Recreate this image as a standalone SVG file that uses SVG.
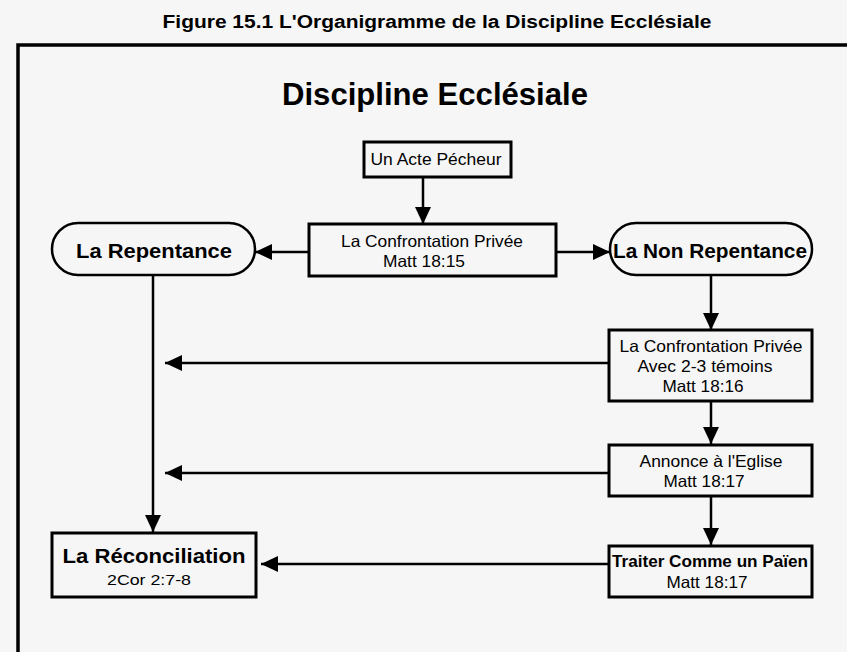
<svg xmlns="http://www.w3.org/2000/svg" width="847" height="652" viewBox="0 0 847 652">
<defs>
<style>
text{font-family:"Liberation Sans",Arial,sans-serif;fill:#000;text-anchor:middle}
.box{fill:none;stroke:#000;stroke-width:3}
.pill{fill:none;stroke:#000;stroke-width:2.5}
.c{fill:none;stroke:#000;stroke-width:2.5}
.t{font-size:16.5px}
.b{font-weight:bold}
</style>
<marker id="ah" markerUnits="userSpaceOnUse" markerWidth="17" markerHeight="16" refX="17" refY="8" orient="auto">
<path d="M0,0 L17,8 L0,16 Z" fill="#000"/>
</marker>
</defs>
<rect x="0" y="0" width="847" height="652" fill="#f6f6f6"/>
<g id="frame">
<text x="437" y="28" class="b" font-size="18" textLength="549" lengthAdjust="spacingAndGlyphs">Figure 15.1 L'Organigramme de la Discipline Ecclésiale</text>
<path d="M18,652 V45 H847" fill="none" stroke="#000" stroke-width="3.5"/>
<text x="435" y="105" class="b" font-size="31" textLength="306" lengthAdjust="spacingAndGlyphs">Discipline Ecclésiale</text>
</g>
<g id="connectors">
<line class="c" x1="423" y1="177" x2="423" y2="224" marker-end="url(#ah)"/>
<line class="c" x1="309" y1="252" x2="255" y2="252" marker-end="url(#ah)"/>
<line class="c" x1="556" y1="252" x2="610" y2="252" marker-end="url(#ah)"/>
<line class="c" stroke-width="3" x1="711" y1="275" x2="711" y2="330" marker-end="url(#ah)"/>
<line class="c" x1="609" y1="363" x2="165" y2="363" marker-end="url(#ah)"/>
<line class="c" stroke-width="3" x1="711" y1="401" x2="711" y2="444" marker-end="url(#ah)"/>
<line class="c" x1="609" y1="473" x2="165" y2="473" marker-end="url(#ah)"/>
<line class="c" stroke-width="3" x1="711" y1="496" x2="711" y2="545" marker-end="url(#ah)"/>
<line class="c" stroke-width="2" x1="609" y1="564" x2="261" y2="564" marker-end="url(#ah)"/>
<line class="c" stroke-width="2" x1="153" y1="275" x2="153" y2="532" marker-end="url(#ah)"/>
</g>
<g id="acte">
<rect class="box" x="364" y="142" width="147" height="35"/>
<text x="436" y="165" class="t" textLength="131" lengthAdjust="spacingAndGlyphs">Un Acte Pécheur</text>
</g>
<g id="confrontation">
<rect class="box" x="309" y="224" width="247" height="52"/>
<text x="432" y="247" class="t" textLength="182" lengthAdjust="spacingAndGlyphs">La Confrontation Privée</text>
<text x="424" y="267" class="t" textLength="82" lengthAdjust="spacingAndGlyphs">Matt 18:15</text>
</g>
<g id="repentance">
<rect class="pill" x="52" y="223" width="203" height="52" rx="26" ry="26"/>
<text x="154" y="258" class="b" font-size="21" textLength="156" lengthAdjust="spacingAndGlyphs">La Repentance</text>
</g>
<g id="nonrepentance">
<rect class="pill" x="610" y="223" width="202" height="52" rx="26" ry="26"/>
<text x="710" y="258" class="b" font-size="21" textLength="194" lengthAdjust="spacingAndGlyphs">La Non Repentance</text>
</g>
<g id="temoins">
<rect class="box" x="609" y="330" width="203" height="71"/>
<text x="711" y="352" class="t" textLength="183" lengthAdjust="spacingAndGlyphs">La Confrontation Privée</text>
<text x="705" y="372" class="t" textLength="135" lengthAdjust="spacingAndGlyphs">Avec 2-3 témoins</text>
<text x="703" y="392" class="t" textLength="81" lengthAdjust="spacingAndGlyphs">Matt 18:16</text>
</g>
<g id="eglise">
<rect class="box" x="609" y="445" width="203" height="51"/>
<text x="711" y="467" class="t" textLength="143" lengthAdjust="spacingAndGlyphs">Annonce à l'Eglise</text>
<text x="704" y="487" class="t" textLength="81" lengthAdjust="spacingAndGlyphs">Matt 18:17</text>
</g>
<g id="paien">
<rect class="box" x="609" y="546" width="203" height="51"/>
<text x="710" y="567" class="t b" textLength="196" lengthAdjust="spacingAndGlyphs">Traiter Comme un Païen</text>
<text x="707" y="588" class="t" textLength="81" lengthAdjust="spacingAndGlyphs">Matt 18:17</text>
</g>
<g id="reconciliation">
<rect class="box" x="52" y="533" width="204" height="64"/>
<text x="154" y="563" class="b" font-size="20" textLength="183" lengthAdjust="spacingAndGlyphs">La Réconciliation</text>
<text x="149" y="585" font-size="15" textLength="84" lengthAdjust="spacingAndGlyphs">2Cor 2:7-8</text>
</g>
</svg>
